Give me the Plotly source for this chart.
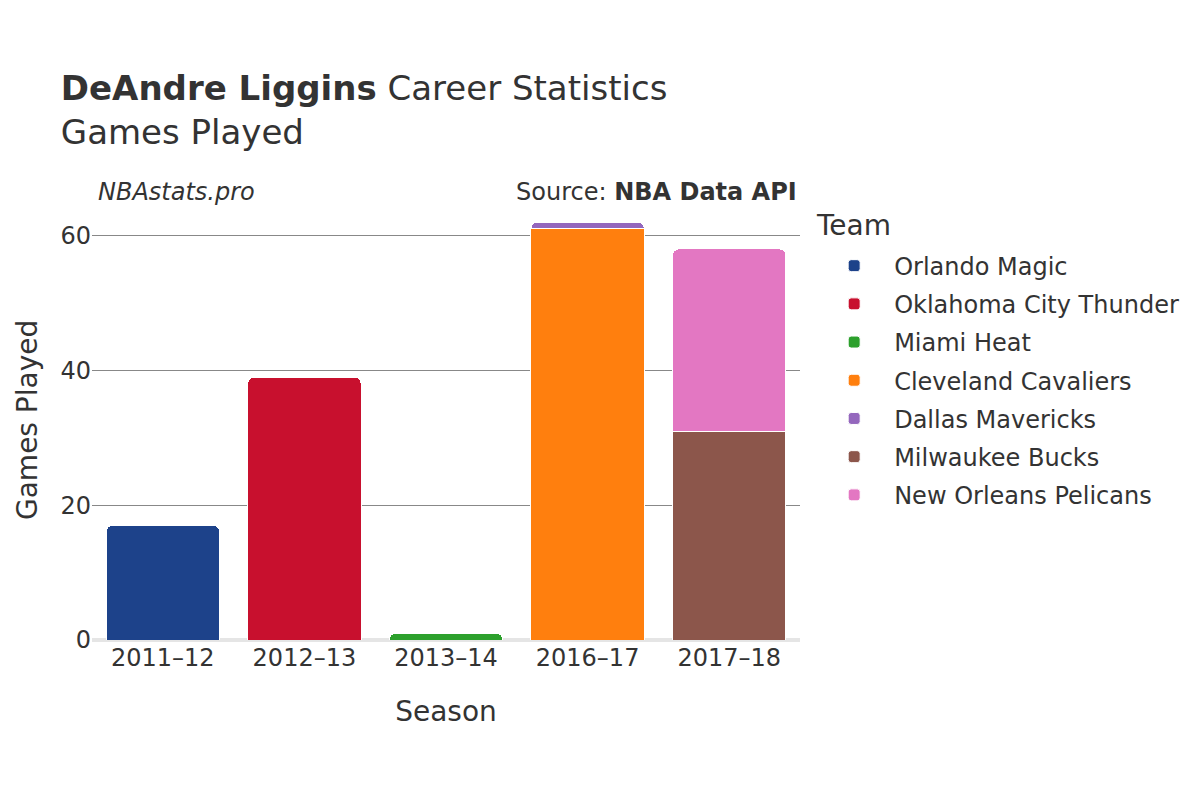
import plotly.graph_objects as go

seasons = ["2011–12", "2012–13", "2013–14", "2016–17", "2017–18"]

teams = [
    "Orlando Magic",
    "Oklahoma City Thunder",
    "Miami Heat",
    "Cleveland Cavaliers",
    "Dallas Mavericks",
    "Milwaukee Bucks",
    "New Orleans Pelicans",
]
colors = ["#1d428a", "#c8102e", "#2ca02c", "#ff7f0e", "#9467bd", "#8c564b", "#e377c2"]

orlando_magic = [17, None, None, None, None]
oklahoma_city_thunder = [None, 39, None, None, None]
miami_heat = [None, None, 1, None, None]
cleveland_cavaliers = [None, None, None, 61, None]
dallas_mavericks = [None, None, None, 1, None]
milwaukee_bucks = [None, None, None, None, 31]
new_orleans_pelicans = [None, None, None, None, 27]

series = [orlando_magic, oklahoma_city_thunder, miami_heat, cleveland_cavaliers,
          dallas_mavericks, milwaukee_bucks, new_orleans_pelicans]

FONT = "DejaVu Sans"
TXT = "#333333"

fig = go.Figure()
for name, vals, col in zip(teams, series, colors):
    xs = [s for s, v in zip(seasons, vals) if v is not None]
    ys = [v for v in vals if v is not None]
    fig.add_trace(go.Bar(
        x=xs, y=ys, name=name, legendgroup=name,
        marker=dict(color=col, line=dict(color="white", width=1)),
    ))

fig.update_layout(
    width=1200, height=800,
    barmode="stack",
    bargap=0.2,
    barcornerradius=6,
    plot_bgcolor="white",
    paper_bgcolor="white",
    font=dict(family=FONT, size=24, color=TXT),
    margin=dict(l=84, r=408, t=192, b=168, autoexpand=False),
    title=dict(
        text="<b>DeAndre Liggins</b> Career Statistics<br>Games Played",
        xref="container", x=0.044, xanchor="left",
        yref="container", y=0.885, yanchor="top",
        font=dict(size=34, color=TXT, family=FONT),
    ),
    legend=dict(
        x=1.02, xanchor="left", y=0.901, yanchor="top",
        font=dict(size=24),
        traceorder="grouped",
        tracegroupgap=4,
        itemwidth=70,
    ),
    xaxis=dict(
        title=dict(text="Season", font=dict(size=28), standoff=30),
        tickfont=dict(size=24),
        ticklabelstandoff=1,
        showgrid=False,
        automargin=False,
        categoryorder="array", categoryarray=seasons,
    ),
    yaxis=dict(
        tickfont=dict(size=24),
        showgrid=True, gridcolor="#888888", gridwidth=1,
        zeroline=True, zerolinecolor="#e5e5e5", zerolinewidth=4,
        automargin=False,
        tickvals=[0, 20, 40, 60],
    ),
    annotations=[
        dict(text="Games Played", xref="paper", yref="paper",
             x=-0.0918, y=0.5, xanchor="center", yanchor="middle",
             textangle=-90, showarrow=False, font=dict(size=28, color=TXT)),
        dict(text="<i>NBAstats.pro</i>", xref="paper", yref="paper",
             x=0.005, y=1.018, xanchor="left", yanchor="middle",
             showarrow=False, font=dict(size=24, color=TXT)),
        dict(text="Source: <b>NBA Data API</b>", xref="paper", yref="paper",
             x=0.998, y=1.018, xanchor="right", yanchor="middle",
             showarrow=False, font=dict(size=24, color=TXT)),
        dict(text="Team", xref="paper", yref="paper",
             x=1.02, y=0.941, xanchor="left", yanchor="middle",
             showarrow=False, font=dict(size=28, color=TXT)),
    ],
)

fig.write_html("out.html")
